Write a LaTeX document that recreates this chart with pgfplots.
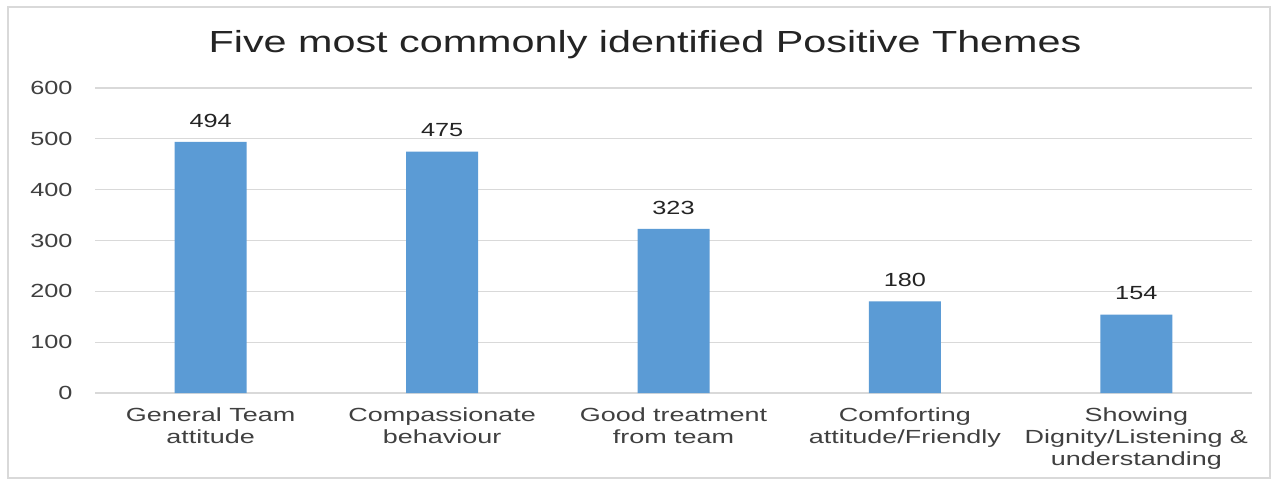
\documentclass[border=0pt]{standalone}
\usepackage{fontspec}
\setmainfont{Liberation Sans}
\usepackage{pgfplots}
\pgfplotsset{compat=1.18}
\definecolor{barblue}{RGB}{91,155,213}
\definecolor{gridgray}{RGB}{217,217,217}
\definecolor{txtgray}{RGB}{64,64,64}
\definecolor{ttlgray}{RGB}{36,36,36}
\newcommand{\sx}[1]{\scalebox{1.33}[1]{#1}}
\newcommand{\cl}[1]{\scalebox{1.42}[1]{\setlength{\tabcolsep}{0pt}\renewcommand{\arraystretch}{1.0}\begin{tabular}{c}#1\end{tabular}}}
\begin{document}
\begin{tikzpicture}[x=1pt,y=1pt]
\useasboundingbox (0,0) rectangle (1280,482);
\fill[white] (0,0) rectangle (1280,482);
\draw[gridgray, line width=1.2pt] (8,4) rectangle (1270,475);
\begin{axis}[
  at={(95pt,89pt)}, anchor=south west,
  scale only axis, width=1157pt, height=305pt,
  xmin=-0.5, xmax=4.5, ymin=0, ymax=600,
  ytick={0,100,...,600},
  xtick=data,
  xticklabels={{\cl{General Team\\attitude}},{\cl{Compassionate\\behaviour}},{\cl{Good treatment\\from team}},{\cl{Comforting\\attitude/Friendly}},{\cl{Showing\\Dignity/Listening \&\\understanding}}},
  xticklabel style={anchor=north, font=\fontsize{19}{22}\selectfont, text=txtgray, yshift=-10pt},
  yticklabel={\sx{\pgfmathprintnumber{\tick}}},
  yticklabel style={font=\fontsize{19}{22}\selectfont, text=txtgray, xshift=-19pt},
  /pgf/number format/assume math mode=true,
  major tick length=0pt,
  axis line style={draw=none},
  ymajorgrids, grid style={gridgray, line width=1.2pt},
  axis x line*=bottom, axis y line*=left,
  ybar, bar width=72pt,
  nodes near coords={\sx{\pgfmathprintnumber{\pgfplotspointmeta}}},
  every node near coord/.append style={font=\fontsize{19}{22}\selectfont, text=ttlgray, yshift=11pt},
  clip=false,
]
\addplot[fill=barblue, draw=none] coordinates {(0,494) (1,475) (2,323) (3,180) (4,154)};
\end{axis}
\node[anchor=base, text=ttlgray, font=\fontsize{30.5}{36}\selectfont] at (645,429) {\scalebox{1.355}[1]{Five most commonly identified Positive Themes}};
\end{tikzpicture}
\end{document}
